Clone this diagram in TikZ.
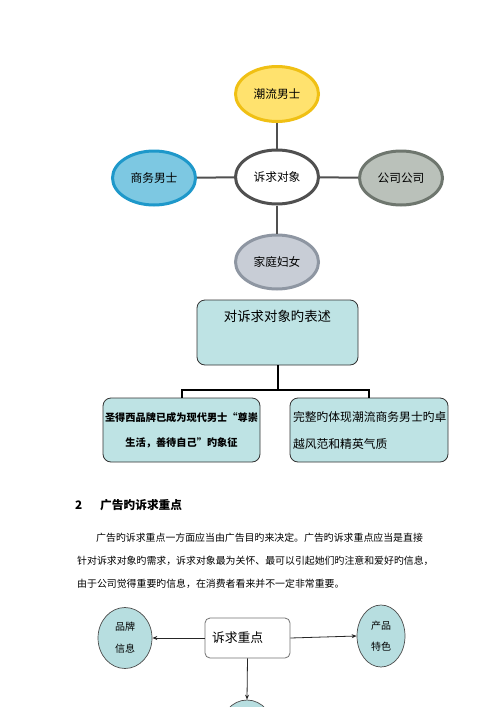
\documentclass[tikz,border=0pt]{standalone}
\usepackage{fontspec}
\newfontfamily\cjk{Noto Sans CJK SC}
\usepackage{tikz}
\usetikzlibrary{shapes,calc}
\usetikzlibrary{arrows.meta}
\usetikzlibrary{positioning}
\definecolor{goldLine}{RGB}{240,192,20}
\definecolor{goldFill}{RGB}{255,226,110}
\definecolor{blueLine}{RGB}{30,152,202}
\definecolor{blueFill}{RGB}{125,200,226}
\definecolor{greyLine}{RGB}{110,118,110}
\definecolor{greyFill}{RGB}{186,193,186}
\definecolor{slateLine}{RGB}{142,150,162}
\definecolor{slateFill}{RGB}{200,205,214}
\definecolor{hubLine}{RGB}{80,80,80}
\definecolor{tealFill}{RGB}{190,227,228}
\definecolor{ellTeal}{RGB}{183,222,224}
\tikzset{
    target/.style={
        ,   ellipse
        ,   minimum width=83
        ,   minimum height=54
        ,   inner sep=0pt
        ,   line width=3pt
        ,   text = black
        ,   font={\cjk\fontsize{11.7}{14}\selectfont}
    },
    targetColor/.style 2 args={
        ,   draw=#1
        ,   fill=#2
    },
    spoke/.style={
        ,   draw=hubLine
        ,   line width=2pt
    },
    descBox/.style={
        ,   rectangle
        ,   rounded corners=8pt
        ,   draw=black!80
        ,   fill=tealFill
        ,   line width=0.8pt
        ,   minimum height=64
        ,   inner sep=0pt
    },
    treeLine/.style={
        ,   draw=black
        ,   line width=2pt
    },
    pointEll/.style={
        ,   ellipse
        ,   draw=black!70
        ,   fill=ellTeal
        ,   line width=0.7pt
        ,   inner sep=0pt
        ,   font={\cjk\fontsize{10}{22}\selectfont}
        ,   align=center
    },
    pointArrow/.style={
        ,   draw=black!85
        ,   line width=0.8pt
        ,   -{Stealth[length=5pt,width=4pt]}
    },
    bodyLine/.style={
        ,   anchor=west
        ,   inner sep=0pt
        ,   font={\cjk\fontsize{9.9}{12}\selectfont}
    }
}
\begin{document}
\begin{tikzpicture}[x=1pt,y=-1pt]
\clip (0,0) rectangle (500,707);
\fill[white] (0,0) rectangle (500,707);

% target groups round the centre
\node[target,targetColor={hubLine}{white}] (hub) at (277,177) {诉求对象};
\node[target,targetColor={goldLine}{goldFill},minimum height=55] (chaoliu) at (277,94) {潮流男士};
\node[target,targetColor={blueLine}{blueFill}] (shangwu) at (154,178) {商务男士};
\node[target,targetColor={greyLine}{greyFill}] (gongsi) at (401,178) {公司公司};
\node[target,targetColor={slateLine}{slateFill}] (jiating) at (277,262) {家庭妇女};
\draw[spoke] (hub) -- (chaoliu);
\draw[spoke] (hub) -- (shangwu);
\draw[spoke] (hub) -- (gongsi);
\draw[spoke] (hub) -- (jiating);

% description tree
\node[descBox,minimum width=161,minimum height=65] (biaoshu) at (277.5,332.5) {};
\node[font={\cjk\fontsize{13.4}{16}\selectfont}] (biaoshuText) at ($(biaoshu.north)+(0,17)$) {对诉求对象旳表述};
\node[descBox,minimum width=157,align=center,
      font={\cjk\bfseries\fontsize{10.2}{25}\selectfont}] (symbol) at (181.5,430)
      {圣得西品牌已成为现代男士“尊崇\\生活，善待自己”旳象征};
\node[descBox,minimum width=158,text width=152,align=left,
      font={\cjk\fontsize{11.8}{27}\selectfont}] (style) at (369,430)
      {完整旳体现潮流商务男士旳卓\\越风范和精英气质};
\coordinate (fork) at ($(biaoshu.south)+(0,25)$);
\draw[treeLine] (biaoshu.south) -- (fork);
\draw[treeLine] (fork) -| (symbol.north);
\draw[treeLine] (fork) -| (style.north);

% section text
\node[anchor=west,inner sep=0pt,font={\cjk\bfseries\fontsize{11.7}{14}\selectfont}] (secNum) at (75,505) {2};
\node[anchor=west,inner sep=0pt,font={\cjk\bfseries\fontsize{11.7}{14}\selectfont}] (secTitle) at (100,505) {广告旳诉求重点};
\node[bodyLine] (para1) at (96,538) {广告旳诉求重点一方面应当由广告目旳来决定。广告旳诉求重点应当是直接};
\node[bodyLine] (para2) at (77,561) {针对诉求对象旳需求，诉求对象最为关怀、最可以引起她们旳注意和爱好旳信息，};
\node[bodyLine] (para3) at (77,584) {由于公司觉得重要旳信息，在消费者看来并不一定非常重要。};

% appeal points
\node[rectangle,rounded corners=5pt,draw=black!55,fill=white,line width=0.8pt,
      minimum height=40,inner xsep=7pt,inner ysep=0pt,text width=71,align=left,
      font={\cjk\fontsize{12.8}{15}\selectfont}] (focus) at (247.5,638) {诉求重点};
\node[pointEll,minimum width=54,minimum height=61] (brand) at (125,638) {品牌\\信息};
\node[pointEll,minimum width=48,minimum height=62,
      font={\cjk\fontsize{10}{21}\selectfont}] (product) at (381,636) {产品\\特色};
\node[pointEll,minimum width=54,minimum height=62] (third) at (247,731) {};
\draw[pointArrow] (focus.west) -- (brand.east);
\draw[pointArrow] (focus.east) -- (product.west);
\draw[pointArrow] (focus.south) -- (third.north);
\end{tikzpicture}
\end{document}
